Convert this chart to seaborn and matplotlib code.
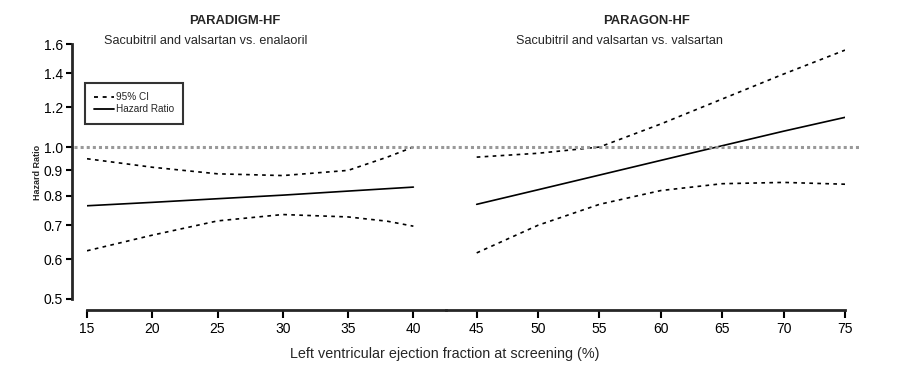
import numpy as np
import pandas as pd
import matplotlib
matplotlib.use('Agg')
import matplotlib.pyplot as plt
import seaborn as sns
from matplotlib.ticker import FixedLocator, NullLocator
from matplotlib.lines import Line2D

# PARADIGM-HF (LVEF 15-40)
ef_paradigm = [15, 20, 25, 30, 35, 38, 40]
hr_paradigm = [0.765, 0.777, 0.790, 0.803, 0.818, 0.827, 0.833]
lo_paradigm = [0.623, 0.669, 0.714, 0.735, 0.727, 0.713, 0.697]
hi_paradigm = [0.948, 0.912, 0.885, 0.878, 0.899, 0.955, 1.000]

# PARAGON-HF (LVEF 45-75)
ef_paragon = [45, 50, 55, 60, 65, 70, 75]
hr_paragon = [0.770, 0.823, 0.880, 0.941, 1.006, 1.075, 1.145]
lo_paragon = [0.617, 0.700, 0.770, 0.820, 0.846, 0.851, 0.844]
hi_paragon = [0.955, 0.972, 1.000, 1.111, 1.245, 1.395, 1.556]

yticks = [0.5, 0.6, 0.7, 0.8, 0.9, 1.0, 1.2, 1.4, 1.6]
xticks_left = [15, 20, 25, 30, 35, 40]
xticks_right = [45, 50, 55, 60, 65, 70, 75]

sns.set_style('ticks')
plt.rcParams['font.family'] = ['Liberation Sans', 'DejaVu Sans']

W, H = 915, 378
fig = plt.figure(figsize=(W / 100, H / 100), dpi=100)

def box(x0, x1, ytop, ybot):
    return [x0 / W, 1 - ybot / H, (x1 - x0) / W, (ybot - ytop) / H]

ax1 = fig.add_axes(box(87, 446, 44, 299))
ax2 = fig.add_axes(box(446, 845, 44, 299))

dash = (0, (2.2, 2.6))
for ax, ef, hr, lo, hi, xl, xt in [
    (ax1, ef_paradigm, hr_paradigm, lo_paradigm, hi_paradigm, (15, 42.5), xticks_left),
    (ax2, ef_paragon, hr_paragon, lo_paragon, hi_paragon, (42.5, 75), xticks_right),
]:
    sns.lineplot(x=ef, y=hr, ax=ax, color='black', lw=1.2)
    sns.lineplot(x=ef, y=lo, ax=ax, color='black', lw=1.2, linestyle=dash)
    sns.lineplot(x=ef, y=hi, ax=ax, color='black', lw=1.2, linestyle=dash)
    ax.set_yscale('log')
    ax.set_ylim(0.5, 1.6)
    ax.set_xlim(*xl)
    ax.set_xticks(xt)
    ax.set_xticklabels([str(v) for v in xt], fontsize=7.5)
    ax.spines['top'].set_visible(False)
    ax.spines['right'].set_visible(False)
    ax.spines['bottom'].set_position(('outward', 8))
    ax.spines['bottom'].set_linewidth(2)
    ax.tick_params(axis='x', length=5.5, width=1.5, pad=3, colors='black')
    ax.set_facecolor('none')

ax1.axhline(1.0, xmin=-0.035, xmax=1, color='#999999', lw=2.2,
            linestyle=(0, (1, 1)), clip_on=False)
ax2.axhline(1.0, xmin=0, xmax=1.04, color='#999999', lw=2.2,
            linestyle=(0, (1, 1)), clip_on=False)

ax1.yaxis.set_major_locator(FixedLocator(yticks))
ax1.yaxis.set_minor_locator(NullLocator())
ax1.set_yticklabels([f'{v:.1f}' for v in yticks], fontsize=7.5)
ax1.spines['left'].set_position(('outward', 10.8))
ax1.spines['left'].set_linewidth(2)
ax1.tick_params(axis='y', length=4, width=1.5, pad=2.5, colors='black')
ax1.set_ylabel('')
fig.text(37 / W, 1 - 172 / H, 'Hazard Ratio', rotation=90, ha='center',
         va='center', fontsize=6.5, fontweight='bold')

ax2.spines['left'].set_visible(False)
ax2.yaxis.set_major_locator(NullLocator())
ax2.yaxis.set_minor_locator(NullLocator())
ax2.set_ylabel('')

fig.text(235 / W, 1 - 21 / H, 'PARADIGM-HF', ha='center', va='center',
         fontsize=9.4, fontweight='bold')
fig.text(206 / W, 1 - 40.5 / H, 'Sacubitril and valsartan vs. enalaoril',
         ha='center', va='center', fontsize=9.1)
fig.text(647 / W, 1 - 21 / H, 'PARAGON-HF', ha='center', va='center',
         fontsize=9.4, fontweight='bold')
fig.text(620 / W, 1 - 40.5 / H, 'Sacubitril and valsartan vs. valsartan',
         ha='center', va='center', fontsize=9.1)
fig.text(445 / W, 1 - 354 / H, 'Left ventricular ejection fraction at screening (%)',
         ha='center', va='center', fontsize=10.4)

handles = [Line2D([], [], color='black', lw=1.3, linestyle=dash),
           Line2D([], [], color='black', lw=1.3)]
leg = fig.legend(handles, ['95% CI', 'Hazard Ratio'], loc='upper left',
                 bbox_to_anchor=(85 / W, 1 - 83 / H), fontsize=7.2,
                 frameon=True, fancybox=False, handlelength=2.0,
                 handletextpad=0.2, borderpad=0.9, labelspacing=0.25,
                 borderaxespad=0)
leg.get_frame().set_edgecolor('black')
leg.get_frame().set_linewidth(1.5)

fig.savefig('out.png', dpi=100)
